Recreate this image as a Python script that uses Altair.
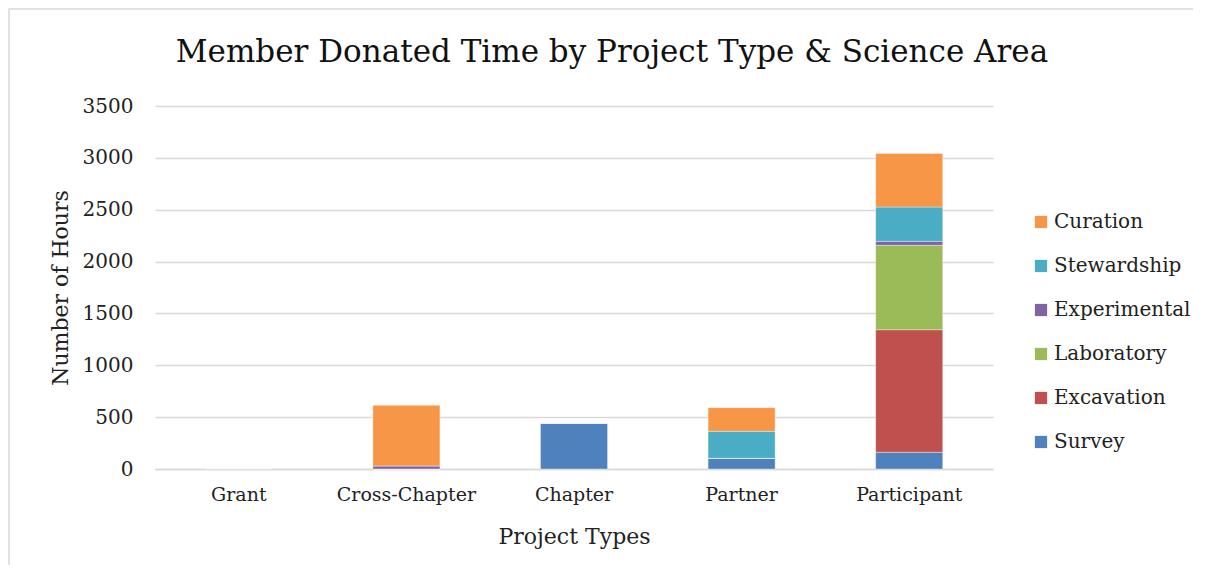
import altair as alt
import pandas as pd

project_types = ["Grant", "Cross-Chapter", "Chapter", "Partner", "Participant"]
areas = ["Curation", "Stewardship", "Experimental", "Laboratory", "Excavation", "Survey"]
colors = ["#F79646", "#4BACC6", "#8064A2", "#9BBB59", "#C0504D", "#4F81BD"]
title_text = "Member Donated Time by Project Type & Science Area"

survey = [8, 0, 443, 103, 161]
excavation = [0, 0, 0, 0, 1182]
laboratory = [0, 0, 0, 0, 814]
experimental = [0, 30, 0, 0, 38]
stewardship = [0, 0, 0, 260, 331]
curation = [0, 584, 0, 228, 517]

series = {
    "Survey": survey,
    "Excavation": excavation,
    "Laboratory": laboratory,
    "Experimental": experimental,
    "Stewardship": stewardship,
    "Curation": curation,
}
stack_rank = {"Survey": 0, "Excavation": 1, "Laboratory": 2, "Experimental": 3, "Stewardship": 4, "Curation": 5}

rows = []
for area, vals in series.items():
    for pt, v in zip(project_types, vals):
        rows.append({"Project": pt, "Area": area, "Hours": v, "rank": stack_rank[area]})
df = pd.DataFrame(rows)

FONT = "DejaVu Serif"

bars = alt.Chart(df).mark_bar(stroke="white", strokeOpacity=0.35, strokeWidth=1).encode(
    x=alt.X("Project:N", sort=project_types, title="Project Types",
            scale=alt.Scale(paddingInner=0.6, paddingOuter=0.3),
            axis=alt.Axis(labelAngle=0, labelFontSize=19, labelPadding=16, titleFontSize=22,
                          titlePadding=22, ticks=False, domainColor="#D9D9D9", domainWidth=1.5)),
    y=alt.Y("Hours:Q", title="Number of Hours",
            scale=alt.Scale(domain=[0, 3500], nice=False),
            axis=alt.Axis(values=[0, 500, 1000, 1500, 2000, 2500, 3000, 3500], format="d",
                          labelFontSize=20, labelPadding=22, titleFontSize=22, titlePadding=10,
                          ticks=False, domain=False, gridColor="#D9D9D9", gridWidth=1.5)),
    color=alt.Color("Area:N", scale=alt.Scale(domain=areas, range=colors),
                    legend=alt.Legend(title=None, orient="none", legendX=876, legendY=106,
                                      symbolType="square", symbolSize=150, symbolStrokeWidth=0,
                                      labelFontSize=20, labelOffset=3, rowPadding=24,
                                      labelColor="#222222")),
    order=alt.Order("rank:Q", sort="ascending"),
)

border = alt.Chart(alt.Data(values=[{}])).mark_rect(
    fill="transparent", stroke="#D9D9D9", strokeWidth=1.5
).encode(x=alt.value(-146), x2=alt.value(2000), y=alt.value(-97), y2=alt.value(2000))

title = alt.Chart(alt.Data(values=[{}])).mark_text(
    font=FONT, fontSize=31, color="#111111", align="center", baseline="middle"
).encode(x=alt.value(457), y=alt.value(-53), text=alt.value(title_text))

chart = alt.layer(border, bars, title).properties(
    width=838, height=363,
    autosize=alt.AutoSizeParams(type="none"),
    padding={"left": 147, "top": 98, "right": 200, "bottom": 96},
).configure(font=FONT).configure_view(stroke=None).configure_axis(
    labelFont=FONT, titleFont=FONT, titleFontWeight="normal", labelColor="#222222", titleColor="#222222"
).configure_legend(labelFont=FONT)

chart.save("out.html", embed_options={"renderer": "svg", "actions": False})
